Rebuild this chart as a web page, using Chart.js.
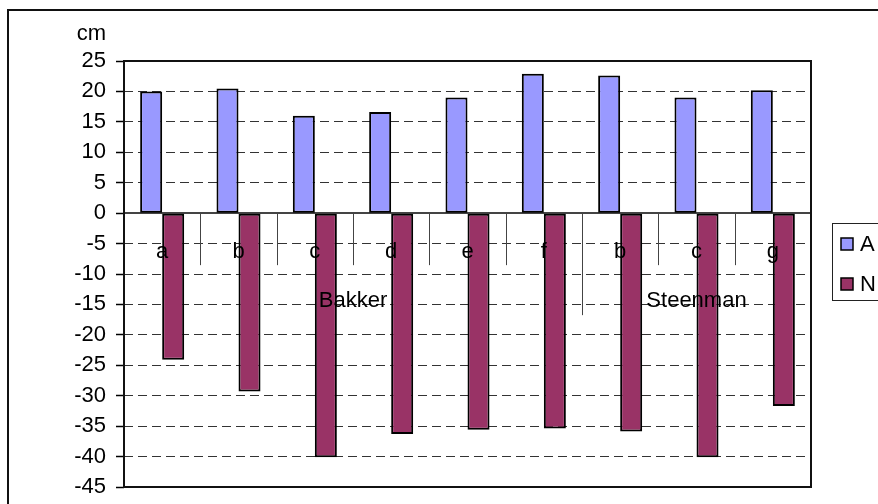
<!DOCTYPE html>
<html>
<head>
<meta charset="utf-8">
<script src="https://cdn.jsdelivr.net/npm/chart.js@4/dist/chart.umd.min.js"></script>
<style>
  body { margin: 0; background: #fff; }
  #wrap { width: 878px; height: 504px; }
</style>
</head>
<body>
<div id="wrap"><canvas id="myChart" width="878" height="504"></canvas></div>
<script>
// chart values
const categories = ['a', 'b', 'c', 'd', 'e', 'f', 'b', 'c', 'g'];
const groupLabels = ['Bakker', 'Steenman'];
const groupSizes = [6, 3];
const seriesNames = ['A', 'N'];
const seriesA = [20, 20.5, 16, 16.6, 19, 22.9, 22.6, 19, 20.2];
const seriesN = [-24.1, -29.3, -40.1, -36.3, -35.6, -35.4, -35.9, -40.1, -31.7];
const unitLabel = 'cm';

const FONT = "'Liberation Sans', Arial, sans-serif";

// extra drawing: frame, zero line, multi-level category axis, legend box
const excelLook = {
  id: 'excelLook',
  beforeDatasetsDraw(chart) {
    const ctx = chart.ctx;
    const y = chart.scales.y;
    const area = chart.chartArea;
    const y0 = Math.round(y.getPixelForValue(0));
    ctx.save();
    ctx.strokeStyle = '#444';
    ctx.lineWidth = 2;
    ctx.beginPath();
    ctx.moveTo(area.left, y0);
    ctx.lineTo(area.right, y0);
    ctx.stroke();
    ctx.restore();
  },
  afterDatasetsDraw(chart) {
    const ctx = chart.ctx;
    const x = chart.scales.x;
    const y = chart.scales.y;
    const area = chart.chartArea;
    const y0 = y.getPixelForValue(0);
    ctx.save();

    // plot area border
    ctx.strokeStyle = '#111';
    ctx.lineWidth = 2;
    ctx.strokeRect(area.left, area.top, area.right - area.left, area.bottom - area.top);

    // category boundary ticks
    const step = x.getPixelForValue(1) - x.getPixelForValue(0);
    let groupEnds = [];
    let acc = 0;
    groupSizes.forEach(s => { acc += s; groupEnds.push(acc); });
    ctx.strokeStyle = '#444';
    ctx.lineWidth = 1;
    for (let i = 1; i < categories.length; i++) {
      const bx = Math.round(x.getPixelForValue(i) - step / 2) + 0.5;
      const long = groupEnds.includes(i);
      ctx.beginPath();
      ctx.moveTo(bx, y0);
      ctx.lineTo(bx, y0 + (long ? 102 : 52));
      ctx.stroke();
    }

    // category labels
    ctx.fillStyle = '#000';
    ctx.font = '22px ' + FONT;
    ctx.textAlign = 'center';
    ctx.textBaseline = 'alphabetic';
    categories.forEach((c, i) => {
      ctx.fillText(c, x.getPixelForValue(i), y0 + 45);
    });

    // group labels
    let start = 0;
    groupLabels.forEach((g, k) => {
      const end = start + groupSizes[k] - 1;
      const left = x.getPixelForValue(start) - step / 2;
      const right = x.getPixelForValue(end) + step / 2;
      ctx.fillText(g, (left + right) / 2, y0 + 94);
      start = end + 1;
    });

    // unit label
    ctx.textAlign = 'right';
    ctx.fillText(unitLabel, 106, 40);
    ctx.restore();
  },
  afterDraw(chart) {
    const ctx = chart.ctx;
    ctx.save();
    // outer frame
    ctx.strokeStyle = '#111';
    ctx.lineWidth = 2;
    ctx.strokeRect(8, 10, 900, 600);

    // legend
    ctx.lineWidth = 1;
    ctx.strokeStyle = '#222';
    ctx.strokeRect(832.5, 223.5, 60, 77);
    ctx.font = '22px ' + FONT;
    ctx.textAlign = 'left';
    ctx.textBaseline = 'alphabetic';
    chart.data.datasets.forEach((ds, i) => {
      const top = 238 + i * 40;
      ctx.fillStyle = ds.backgroundColor;
      ctx.fillRect(841, top, 12, 12);
      ctx.strokeStyle = '#000';
      ctx.lineWidth = 1.5;
      ctx.strokeRect(841, top, 12, 12);
      ctx.fillStyle = '#000';
      ctx.fillText(ds.label, 860, top + 13);
    });
    ctx.restore();
  }
};

const ctx = document.getElementById('myChart').getContext('2d');
const chart = new Chart(ctx, {
  type: 'bar',
  data: {
    labels: categories,
    datasets: [{
      label: seriesNames[0],
      data: seriesA,
      backgroundColor: '#9999FF',
      borderColor: '#000',
      borderWidth: 2,
      borderSkipped: false
    }, {
      label: seriesNames[1],
      data: seriesN,
      backgroundColor: '#993366',
      borderColor: '#000',
      borderWidth: 2,
      borderSkipped: false
    }]
  },
  options: {
    responsive: false,
    animation: false,
    layout: { padding: { top: 61, right: 67, bottom: 17, left: 0 } },
    datasets: {
      bar: { categoryPercentage: 0.577, barPercentage: 1 }
    },
    plugins: {
      legend: { display: false },
      tooltip: { enabled: false }
    },
    scales: {
      x: {
        display: false,
        offset: true
      },
      y: {
        min: -45,
        max: 25,
        afterFit(scale) {
          scale.width = 124;
          scale.paddingTop = 0;
          scale.paddingBottom = 0;
        },
        ticks: {
          stepSize: 5,
          padding: 10,
          color: '#000',
          font: { family: FONT, size: 22 }
        },
        grid: {
          color: c => (c.tick && (c.tick.value === 0 || c.tick.value === 25 || c.tick.value === -45)) ? 'rgba(0,0,0,0)' : '#333',
          tickColor: '#000',
          tickLength: 8,
          tickWidth: 1.5,
          lineWidth: 1
        },
        border: { display: false, dash: [9, 5] }
      }
    }
  },
  plugins: [excelLook]
});
</script>
</body>
</html>
